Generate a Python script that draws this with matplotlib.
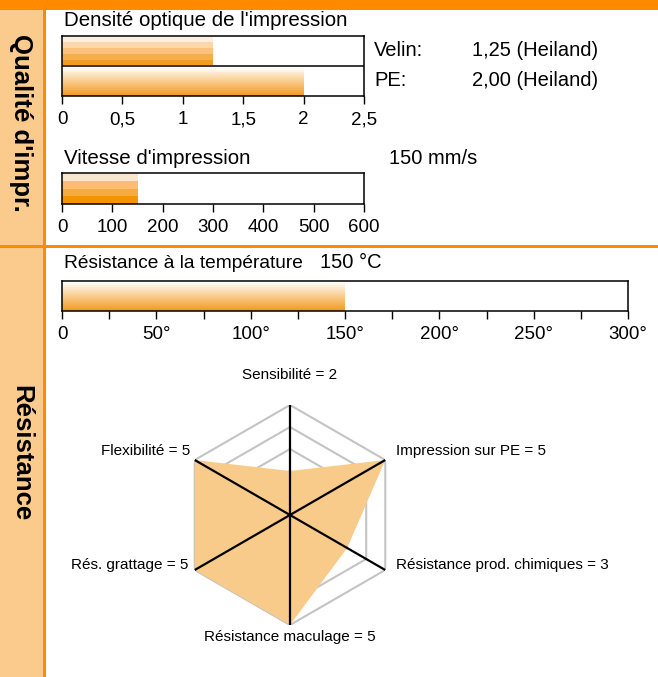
import numpy as np
import matplotlib
matplotlib.use("Agg")
import matplotlib.pyplot as plt
from matplotlib.patches import Rectangle
import matplotlib.colors as mcolors

plt.rcParams['font.family'] = ['Liberation Sans', 'DejaVu Sans']

# ---------------- data ----------------
density_labels = ["Velin", "PE"]
density_values = [1.25, 2.00]
density_text = ["1,25 (Heiland)", "2,00 (Heiland)"]
density_ticks = [0, 0.5, 1, 1.5, 2, 2.5]
density_ticklabels = ["0", "0,5", "1", "1,5", "2", "2,5"]

speed_value = 150
speed_ticks = [0, 100, 200, 300, 400, 500, 600]
speed_ticklabels = ["0", "100", "200", "300", "400", "500", "600"]

temp_value = 150
temp_ticks = [0, 25, 50, 75, 100, 125, 150, 175, 200, 225, 250, 275, 300]
temp_ticklabels = ["0", "", "50°", "", "100°", "", "150°", "", "200°", "", "250°", "", "300°"]

radar_labels = ["Sensibilité", "Impression sur PE", "Résistance prod. chimiques",
                "Résistance maculage", "Rés. grattage", "Flexibilité"]
radar_values = [2, 5, 3, 5, 5, 5]
radar_max = 5

# ---------------- styles ----------------
W, H = 658, 677
ORANGE = '#FF8A00'
SIDE = '#FBCB8E'
stripes_velin = ['#FEEEDD', '#FDD6AA', '#FAC27C', '#F6AD4A', '#F39C22']
stripes_speed = ['#FEE6CD', '#FCBC72', '#F6AA42', '#F39400']
_t = np.linspace(0, 1, 30)[:, None]
smooth = [mcolors.to_hex(c) for c in
          np.array([mcolors.to_rgb('#FFFFFF')]) * (1 - _t) +
          np.array([mcolors.to_rgb('#F39A1E')]) * _t]

TICK_FS = 13.5
TITLE_FS = 14.8
INFO_FS = 14.5

fig = plt.figure(figsize=(W / 100, H / 100), dpi=100)

def px_axes(x, y, w, h, **kw):
    return fig.add_axes([x / W, 1 - (y + h) / H, w / W, h / H], **kw)

# background / frame
bg = fig.add_axes([0, 0, 1, 1], zorder=-5)
bg.set_xlim(0, W); bg.set_ylim(H, 0); bg.axis('off')
bg.add_patch(Rectangle((0, 0), 43, H, color=SIDE, lw=0))
bg.add_patch(Rectangle((43, 0), 3, H, color=ORANGE, lw=0))
bg.add_patch(Rectangle((0, 0), W, 10, color=ORANGE, lw=0))
bg.add_patch(Rectangle((0, 245), W, 2.5, color=ORANGE, lw=0))
bg.text(21, 123, "Qualité d'impr.", rotation=-90, ha='center', va='center',
        fontsize=18.5, fontweight='bold', color='black')
bg.text(21, 453, "Résistance", rotation=-90, ha='center', va='center',
        fontsize=18.5, fontweight='bold', color='black')


def style_bar_axes(ax):
    for s in ax.spines.values():
        s.set_linewidth(1.1)
        s.set_color('black')
    ax.tick_params(axis='x', direction='out', length=6, width=1, labelsize=TICK_FS, pad=5)
    ax.tick_params(axis='y', left=False, labelleft=False)


def striped_bar(ax, y0, h, value, colors):
    n = len(colors)
    for k, c in enumerate(colors):
        ax.barh(y0 + h * (n - 1 - k) / n, value, height=h / n, align='edge',
                color=c, lw=0, zorder=1)

# ---------- Density ----------
ax1 = px_axes(62, 36, 302, 60)
ax1.set_xlim(0, 2.5); ax1.set_ylim(0, 2)
striped_bar(ax1, 1.02, 0.96, density_values[0], stripes_velin)
striped_bar(ax1, 0.0, 0.98, density_values[1], smooth)
ax1.axhline(1, color='black', lw=1.1, zorder=3)
ax1.set_xticks(density_ticks)
ax1.set_xticklabels(density_ticklabels)
style_bar_axes(ax1)
bg.text(64, 20, "Densité optique de l'impression", fontsize=TITLE_FS, ha='left', va='center')
for i, (lab, txt) in enumerate(zip(density_labels, density_text)):
    yy = 51 + 30 * i
    bg.text(374, yy, lab + ":", fontsize=INFO_FS, ha='left', va='center')
    bg.text(472, yy, txt, fontsize=INFO_FS, ha='left', va='center')

# ---------- Speed ----------
ax2 = px_axes(62, 173, 302, 31)
ax2.set_xlim(0, 600); ax2.set_ylim(0, 1)
striped_bar(ax2, 0, 1, speed_value, stripes_speed)
ax2.set_xticks(speed_ticks)
ax2.set_xticklabels(speed_ticklabels)
style_bar_axes(ax2)
bg.text(64, 158, "Vitesse d'impression", fontsize=TITLE_FS, ha='left', va='center')
bg.text(389, 158, f"{speed_value} mm/s", fontsize=INFO_FS, ha='left', va='center')

# ---------- Temperature ----------
ax3 = px_axes(62, 281, 566, 30)
ax3.set_xlim(0, 300); ax3.set_ylim(0, 1)
striped_bar(ax3, 0, 1, temp_value, smooth)
ax3.set_xticks(temp_ticks)
ax3.set_xticklabels(temp_ticklabels)
style_bar_axes(ax3)
bg.text(64, 263, "Résistance à la température", fontsize=13.8, ha='left', va='center')
bg.text(320, 263, f"{temp_value} °C", fontsize=INFO_FS, ha='left', va='center')

# ---------- Radar ----------
axr = px_axes(180, 405, 220, 220, projection='polar')
axr.set_theta_offset(np.pi / 2)
axr.set_theta_direction(-1)
axr.set_ylim(0, radar_max)
axr.grid(False)
axr.spines['polar'].set_visible(False)
axr.set_xticks([]); axr.set_yticks([])
axr.patch.set_alpha(0)
n = len(radar_labels)
theta = np.arange(n) * 2 * np.pi / n
theta_c = np.append(theta, theta[0])
for r in range(1, radar_max + 1):
    axr.plot(theta_c, [r] * (n + 1), color='#C4C4C4', lw=1.5, zorder=1)
vals_c = np.append(radar_values, radar_values[0])
axr.fill(theta_c, vals_c, color='#F9CB8A', lw=0, zorder=2)
for t in theta[:3]:
    axr.plot([t, t + np.pi], [radar_max, radar_max], color='black', lw=1.6, zorder=3)

offsets = [(0, 30, 'center'), (11, 9, 'left'), (11, 5, 'left'),
           (0, -12, 'center'), (-6, 5, 'right'), (-4, 9, 'right')]
for t, lab, v, (dx, dy, ha) in zip(theta, radar_labels, radar_values, offsets):
    axr.annotate(f"{lab} = {v}", xy=(t, radar_max), xytext=(dx, dy),
                 textcoords='offset pixels', ha=ha, va='center', fontsize=11,
                 annotation_clip=False)

fig.savefig("out.png", dpi=100)
